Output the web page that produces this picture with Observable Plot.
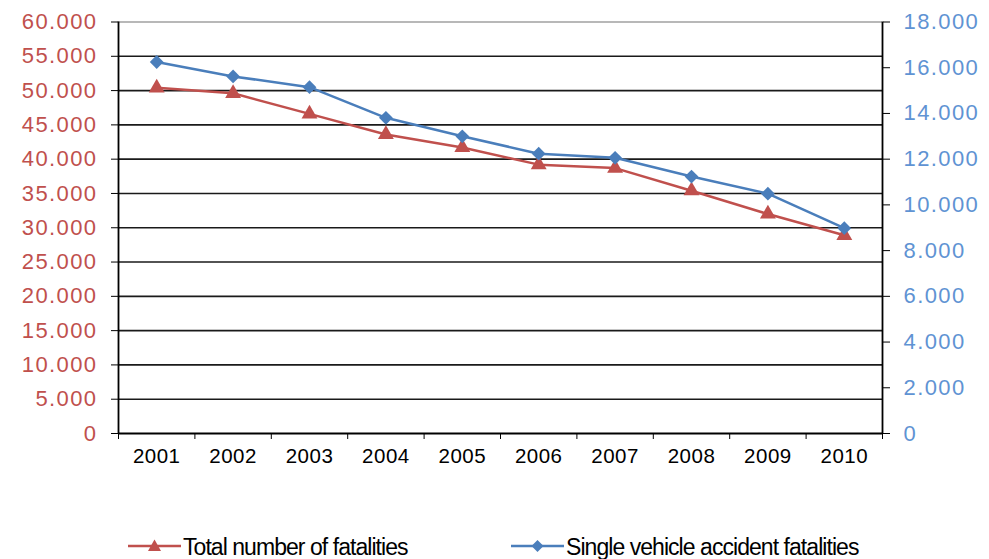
<!DOCTYPE html>
<html>
<head>
<meta charset="utf-8">
<script src="https://cdn.jsdelivr.net/npm/d3@7"></script>
<script src="https://cdn.jsdelivr.net/npm/@observablehq/plot@0.6"></script>
<style>
  html, body { margin: 0; padding: 0; background: #fff; }
  body { width: 989px; height: 559px; position: relative; overflow: hidden; font-family: "Liberation Sans", Arial, sans-serif; }
  #legend { position: absolute; top: 535px; left: 0; width: 989px; height: 24px; }
  .item { position: absolute; top: 0; display: flex; align-items: center; font-size: 23px; line-height: 24px; color: #000; letter-spacing: -0.95px; white-space: nowrap; }
  .item svg { display: block; margin-right: 2px; }
  g[aria-label="y-axis tick label"] text { letter-spacing: 1.4px; }
  g[aria-label="x-axis tick label"] text { letter-spacing: 0.5px; }
</style>
</head>
<body>
<div id="chart"></div>
<div id="legend">
  <div class="item" style="left:128px">
    <svg width="53" height="24"><line x1="0" y1="11" x2="53" y2="11" stroke="#c0504d" stroke-width="2.5"/><path d="M26.5,4.5 L33,16 L20,16 Z" fill="#c0504d"/></svg>
    <span>Total number of fatalities</span>
  </div>
  <div class="item" style="left:511px">
    <svg width="53" height="24"><line x1="0" y1="11" x2="53" y2="11" stroke="#4a7ebb" stroke-width="2.5"/><path d="M26.5,5 L32.5,11 L26.5,17 L20.5,11 Z" fill="#4a7ebb"/></svg>
    <span>Single vehicle accident fatalities</span>
  </div>
</div>
<script>
const years = [2001, 2002, 2003, 2004, 2005, 2006, 2007, 2008, 2009, 2010];
const totalFatalities = [50400, 49600, 46600, 43600, 41700, 39200, 38700, 35400, 32000, 28900];
const singleVehicle = [16250, 15620, 15150, 13810, 13000, 12240, 12060, 11240, 10490, 8980];
const leftTicks = [0, 5000, 10000, 15000, 20000, 25000, 30000, 35000, 40000, 45000, 50000, 55000, 60000];
const rightTicks = [0, 2000, 4000, 6000, 8000, 10000, 12000, 14000, 16000, 18000];
const leftMax = 60000;
const rightMax = 18000;

const ratio = leftMax / rightMax;
const loc = d3.formatLocale({decimal: ",", thousands: ".", grouping: [3]});
const fmt = loc.format(",d");

const totalData = years.map((y, i) => ({year: y, value: totalFatalities[i]}));
const singleData = years.map((y, i) => ({year: y, value: singleVehicle[i] * ratio}));
const xMin = years[0] - 0.5, xMax = years[years.length - 1] + 0.5;
const boundaries = d3.range(years.length + 1).map(i => xMin + i);

const red = "#c0504d", blue = "#4a7ebb";

const chart = Plot.plot({
  width: 989,
  height: 480,
  marginLeft: 118,
  marginRight: 107,
  marginTop: 21.5,
  marginBottom: 47,
  style: {fontFamily: "'Liberation Sans', Arial, sans-serif", background: "#fff"},
  x: {type: "linear", domain: [xMin, xMax]},
  y: {domain: [0, leftMax]},
  marks: [
    Plot.ruleY(leftTicks.filter(d => d > 0 && d < leftMax), {stroke: "#1a1a1a", strokeWidth: 1.6}),
    Plot.ruleY([leftMax], {stroke: "#a0a0a0", strokeWidth: 1.4}),
    Plot.ruleY([0], {stroke: "#000", strokeWidth: 1.8}),
    Plot.ruleX([xMin, xMax], {stroke: "#000", strokeWidth: 1.8}),
    Plot.axisY({anchor: "left", ticks: leftTicks, tickFormat: d => fmt(d), tickSize: 7, tickPadding: 14, fontSize: 22, color: red, stroke: "#000", label: null}),
    Plot.axisY({anchor: "right", ticks: rightTicks.map(v => v * ratio), tickFormat: d => fmt(Math.round(d / ratio)), tickSize: 7, tickPadding: 14, fontSize: 22, color: "#5f93d3", stroke: "#000", label: null}),
    Plot.axisX({ticks: boundaries, tickFormat: () => "", tickSize: 6, stroke: "#000", label: null}),
    Plot.axisX({ticks: years, tickFormat: d => String(d), tickSize: 0, tickPadding: 15, fontSize: 20.5, color: "#000", label: null}),
    Plot.line(totalData, {x: "year", y: "value", stroke: red, strokeWidth: 2.5}),
    Plot.dot(totalData, {x: "year", y: "value", symbol: "triangle", r: 5.9, fill: red, stroke: "none"}),
    Plot.line(singleData, {x: "year", y: "value", stroke: blue, strokeWidth: 2.5}),
    Plot.dot(singleData, {x: "year", y: "value", symbol: "diamond2", r: 6.2, fill: blue, stroke: "none"})
  ]
});
document.getElementById("chart").appendChild(chart);
</script>
</body>
</html>
